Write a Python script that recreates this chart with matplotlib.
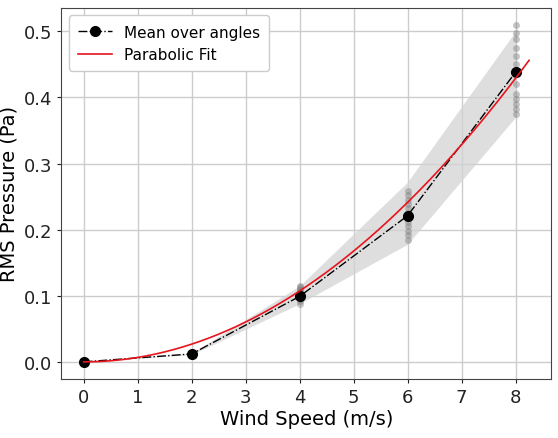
import numpy as np
import matplotlib.pyplot as plt

# mean RMS pressure over angles
speeds = [0, 2, 4, 6, 8]
mean_p = [0.0, 0.012, 0.099, 0.221, 0.438]

# individual angle measurements
angle_p = {
    4: [0.088, 0.092, 0.095, 0.098, 0.100, 0.102, 0.104, 0.106, 0.108, 0.110, 0.113, 0.115],
    6: [0.185, 0.192, 0.198, 0.205, 0.212, 0.218, 0.225, 0.232, 0.238, 0.245, 0.252, 0.259],
    8: [0.375, 0.382, 0.390, 0.398, 0.405, 0.420, 0.435, 0.450, 0.462, 0.475, 0.488, 0.498, 0.510],
}

# shaded spread band
band_lo = [0.0, 0.011, 0.088, 0.178, 0.37]
band_hi = [0.0, 0.013, 0.115, 0.272, 0.50]

# parabolic fit coefficients (a*x^2 + b*x + c)
fit_coef = [0.0067, 0.0, 0.0]
fit_range = (0, 8.25)

plt.figure(figsize=(5.58, 4.39), dpi=100)
ax = plt.gca()

ax.fill_between(speeds, band_lo, band_hi, color='lightgray', alpha=0.75, lw=0)
for s, vals in angle_p.items():
    ax.plot([s] * len(vals), vals, 'o', color='gray', alpha=0.45, ms=5, mec='none')

ax.plot(speeds, mean_p, '-.o', color='black', lw=1.0, ms=7, label='Mean over angles')
xf = np.linspace(fit_range[0], fit_range[1], 200)
ax.plot(xf, np.polyval(fit_coef, xf), color='#e8141c', lw=1.2, label='Parabolic Fit')

ax.set_xticks(range(0, 9))
ax.set_yticks([0.0, 0.1, 0.2, 0.3, 0.4, 0.5])
ax.tick_params(labelsize=13, colors='#222222', length=3)
ax.set_xlabel('Wind Speed (m/s)', fontsize=14, labelpad=2)
ax.set_ylabel('RMS Pressure (Pa)', fontsize=14)
ax.grid(True, color='#cccccc', lw=1)
ax.set_axisbelow(True)
for sp in ax.spines.values():
    sp.set_color('#444444')
ax.legend(loc='upper left', fontsize=11, framealpha=1, edgecolor='#cccccc',
          borderpad=0.6, handlelength=2.2)

plt.subplots_adjust(left=0.11, right=0.988, top=0.98, bottom=0.135)
plt.savefig('out.png', dpi=100)
